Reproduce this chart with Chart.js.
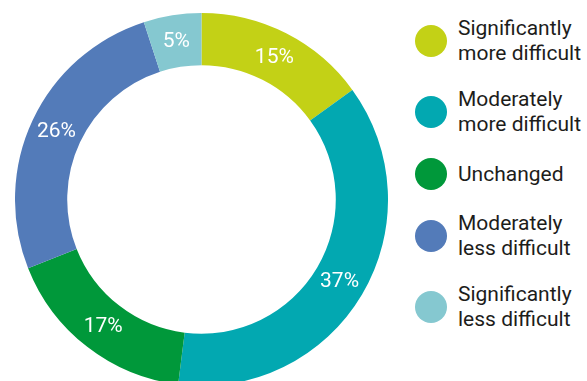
<!DOCTYPE html>
<html>
<head>
<meta charset="utf-8">
<script src="https://cdn.jsdelivr.net/npm/chart.js@4/dist/chart.umd.min.js"></script>
<style>
  html, body { margin: 0; padding: 0; background: #fff; overflow: hidden; }
  body { width: 587px; height: 381px; position: relative; font-family: Roboto, "Noto Sans", sans-serif; }
  #wrap { position: absolute; left: 15px; top: 13px; width: 373px; height: 373px; }
  #legend { position: absolute; left: 415px; top: 16px; display: flex; flex-direction: column; gap: 21px; }
  .item { display: flex; align-items: center; }
  .dot { width: 32px; height: 32px; border-radius: 50%; flex: none; margin-right: 11px; }
  .txt { font-size: 21px; line-height: 25px; color: #1d1d1b; white-space: nowrap; }
</style>
</head>
<body>
<div id="wrap"><canvas id="c" width="373" height="373"></canvas></div>
<div id="legend"></div>
<script>
// Survey answers and their shares (percent)
const categories = [
  ["Significantly", "more difficult"],
  ["Moderately", "more difficult"],
  ["Unchanged"],
  ["Moderately", "less difficult"],
  ["Significantly", "less difficult"]
];
const shares = [15, 37, 17, 26, 5];
const colors = ["#c3d116", "#02a8b1", "#00983a", "#537bb9", "#85c8d0"];

// Value labels written at the middle of each ring segment
const segmentLabels = {
  id: "segmentLabels",
  afterDatasetsDraw(chart) {
    const ctx = chart.ctx;
    const meta = chart.getDatasetMeta(0);
    ctx.save();
    ctx.fillStyle = "#ffffff";
    ctx.font = "400 21px Roboto";
    ctx.textAlign = "center";
    ctx.textBaseline = "middle";
    meta.data.forEach((arc, i) => {
      const p = arc.tooltipPosition();
      ctx.fillText(shares[i] + "%", p.x, p.y + 1);
    });
    ctx.restore();
  }
};

new Chart(document.getElementById("c"), {
  type: "doughnut",
  data: {
    labels: categories.map(l => l.join(" ")),
    datasets: [{
      data: shares,
      backgroundColor: colors,
      borderWidth: 0
    }]
  },
  options: {
    responsive: false,
    animation: false,
    cutout: "72%",
    layout: { padding: 0 },
    plugins: { legend: { display: false }, tooltip: { enabled: false } }
  },
  plugins: [segmentLabels]
});

// Legend beside the ring
const legend = document.getElementById("legend");
categories.forEach((lines, i) => {
  const item = document.createElement("div");
  item.className = "item";
  const dot = document.createElement("div");
  dot.className = "dot";
  dot.style.background = colors[i];
  const txt = document.createElement("div");
  txt.className = "txt";
  txt.innerHTML = lines.join("<br>");
  item.appendChild(dot);
  item.appendChild(txt);
  legend.appendChild(item);
});
</script>
</body>
</html>
